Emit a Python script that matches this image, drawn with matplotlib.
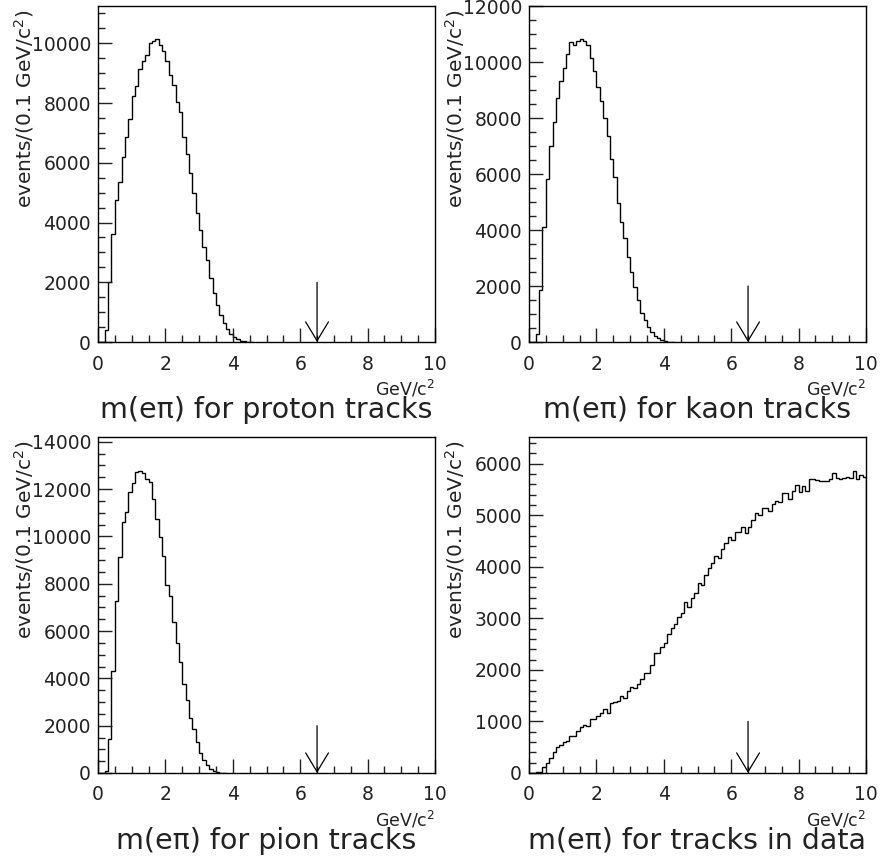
import numpy as np
import matplotlib.pyplot as plt
from matplotlib.ticker import MultipleLocator

plt.rcParams['font.family'] = ['DejaVu Sans']

# m(e pi) histograms, events per 0.1 GeV/c^2 bin, first bin starts at 0
bin_width = 0.1
cut = 6.5

proton = [0, 0, 400, 2020, 3620, 4750, 5370, 6210, 6850, 7460,
          8220, 8560, 9140, 9420, 9620, 10010, 10090, 10140, 9950, 9750,
          9420, 8950, 8610, 8020, 7690, 6860, 6300, 5650, 4980, 4310,
          3750, 3170, 2730, 2130, 1630, 1240, 900, 630, 420, 270,
          160, 90, 45, 20, 10, 0]
kaon = [0, 0, 290, 1860, 4120, 5820, 7010, 7840, 8700, 9310,
        9790, 10270, 10720, 10600, 10740, 10810, 10740, 10600, 10140, 9670,
        9110, 8620, 7990, 7370, 6530, 5910, 4960, 4280, 3710, 3050,
        2490, 1980, 1500, 1050, 790, 520, 350, 210, 130, 70,
        35, 10, 0]
pion = [0, 0, 90, 1420, 4300, 7250, 9120, 10620, 11050, 11890,
        12250, 12720, 12750, 12680, 12420, 12280, 11590, 10730, 9970, 9150,
        7950, 7500, 6370, 5510, 4670, 3750, 3090, 2340, 1850, 1330,
        860, 550, 320, 180, 100, 40, 10, 0]
data = [0, 0, 10, 25, 120, 200, 300, 400, 510, 540,
        600, 630, 720, 720, 815, 900, 940, 910, 1040, 1040,
        1100, 1160, 1250, 1170, 1350, 1380, 1400, 1490, 1460, 1590,
        1670, 1655, 1730, 1820, 1950, 1950, 2100, 2320, 2330, 2450,
        2530, 2700, 2810, 2900, 3030, 3110, 3320, 3230, 3390, 3500,
        3680, 3650, 3840, 3970, 4070, 4210, 4180, 4350, 4470, 4570,
        4530, 4670, 4680, 4770, 4660, 4780, 4910, 5040, 5010, 5150,
        5140, 5080, 5220, 5280, 5260, 5430, 5430, 5310, 5470, 5590,
        5460, 5570, 5470, 5700, 5700, 5680, 5670, 5660, 5670, 5700,
        5830, 5720, 5710, 5730, 5740, 5720, 5860, 5710, 5790, 5750]

titles = ['m(eπ) for proton tracks', 'm(eπ) for kaon tracks',
          'm(eπ) for pion tracks', 'm(eπ) for tracks in data']
ymax = [11250, 12000, 14200, 6520]
ymajor = [2000, 2000, 2000, 1000]
yminor = [500, 500, 500, 200]
arrow_top = [2000, 2000, 2000, 1000]

W, H = 883, 865
fig = plt.figure(figsize=(W / 100, H / 100), dpi=100)
rects = [[98, 6], [529, 6], [98, 437], [529, 437]]  # left, top in px

for i, vals in enumerate([proton, kaon, pion, data]):
    l, t = rects[i]
    ax = fig.add_axes([l / W, 1 - (t + 336) / H, 337 / W, 336 / H])
    edges = bin_width * np.arange(len(vals) + 1)
    ax.stairs(vals, edges, color='black', lw=1.0)
    ax.set_xlim(0, 10)
    ax.set_ylim(0, ymax[i])
    ax.xaxis.set_major_locator(MultipleLocator(2))
    ax.xaxis.set_minor_locator(MultipleLocator(0.5))
    ax.yaxis.set_major_locator(MultipleLocator(ymajor[i]))
    ax.yaxis.set_minor_locator(MultipleLocator(yminor[i]))
    ax.tick_params(which='both', direction='in', width=1.0, labelsize=13.5,
                   colors='#222222')
    ax.tick_params(which='major', length=10)
    ax.tick_params(which='minor', length=5)
    ax.tick_params(axis='x', which='major', pad=9)
    ax.tick_params(axis='y', which='major', pad=5)
    for s in ax.spines.values():
        s.set_linewidth(1.0)
    # cut arrow
    ax.annotate('', xy=(cut, 0), xytext=(cut, arrow_top[i]),
                arrowprops=dict(arrowstyle='->,head_length=0.68,head_width=0.41',
                                mutation_scale=20, lw=0.9, color='black',
                                shrinkA=0, shrinkB=0))
    ax.text(-0.22, 0.40, 'events/(0.1 GeV/c$^{2}$)', rotation=90,
            transform=ax.transAxes, ha='center', va='bottom', fontsize=14.5,
            color='#222222')
    ax.text(1.0, -0.158, 'GeV/c$^{2}$', transform=ax.transAxes,
            ha='right', va='baseline', fontsize=12.5, color='#222222')
    ax.text(0.5, -0.226, titles[i], transform=ax.transAxes,
            ha='center', va='baseline', fontsize=20.5, color='#222222')

fig.savefig('out.png', dpi=100)
